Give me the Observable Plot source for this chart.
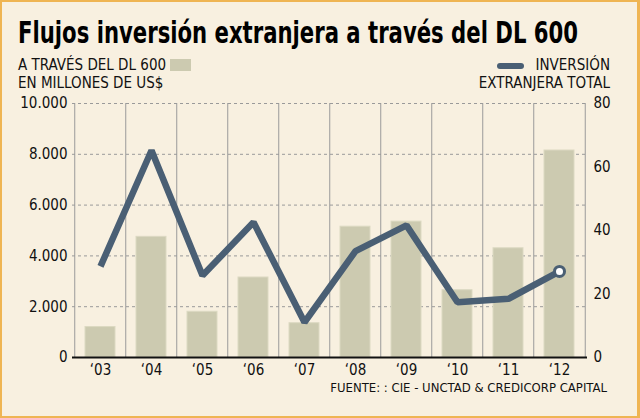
<!DOCTYPE html>
<html><head><meta charset="utf-8">
<script src="https://cdn.jsdelivr.net/npm/d3@7"></script>
<script src="https://cdn.jsdelivr.net/npm/@observablehq/plot@0.6"></script>
<style>
html,body{margin:0;padding:0;background:#f8f0e0;}
#wrap{position:relative;width:640px;height:418px;background:#f8f0e0;overflow:hidden;font-family:"DejaVu Sans Condensed","DejaVu Sans",sans-serif;color:#111;}
#border{position:absolute;left:0;top:0;width:640px;height:418px;box-sizing:border-box;border:2px solid #efb553;border-right-width:3px;pointer-events:none;}
.t{position:absolute;white-space:nowrap;}
#title{left:18px;top:14px;font-family:"DejaVu Sans Condensed",sans-serif;font-weight:bold;font-size:31px;color:#000;transform-origin:0 0;}
#sub1{left:18px;top:56px;font-size:15px;}
#sub2{left:18px;top:74px;font-size:15px;}
#sw1{position:absolute;left:170px;top:59px;width:21px;height:12px;background:#cccab0;}
#leg1{right:30px;top:56px;font-size:15px;}
#leg2{right:30px;top:74px;font-size:15px;}
#sw2{position:absolute;left:497px;top:63px;width:27px;height:6px;border-radius:3px;background:#4a5f74;}
#src{right:33px;top:380px;font-size:13px;}
#chart{position:absolute;left:0;top:90px;}
</style>
</head><body>
<div id="wrap">
  <div id="chart"></div>
  <div class="t" id="title">Flujos inversión extranjera a través del DL 600</div>
  <div class="t" id="sub1">A TRAVÉS DEL DL 600</div>
  <div id="sw1"></div>
  <div class="t" id="sub2">EN MILLONES DE US$</div>
  <div id="sw2"></div>
  <div class="t" id="leg1">INVERSIÓN</div>
  <div class="t" id="leg2">EXTRANJERA TOTAL</div>
  <div class="t" id="src">FUENTE: : CIE - UNCTAD &amp; CREDICORP CAPITAL</div>
  <div id="border"></div>
</div>
<script>
const years = ["2003","2004","2005","2006","2007","2008","2009","2010","2011","2012"];
const dl600 = [1200, 4750, 1800, 3150, 1350, 5150, 5350, 2650, 4300, 8150];
const total = [28.7, 65.2, 25.8, 42.6, 11.1, 33.5, 41.6, 17.4, 18.5, 27.1];
const leftTicks = [0, 2000, 4000, 6000, 8000, 10000];
const rightTicks = [0, 20, 40, 60, 80];

const ratio = 10000 / 80;
const data = years.map((y, i) => ({year: y, dl600: dl600[i], total: total[i]}));
const W = 640, ML = 72, MR = 53;
const half = (W - ML - MR) / years.length / 2;
const lineColor = "#4a5f74";

const chart = Plot.plot({
  width: W, height: 300,
  marginLeft: ML, marginRight: MR, marginTop: 13, marginBottom: 33,
  style: {background: "transparent", fontSize: "15px", fontFamily: "'DejaVu Sans Condensed','DejaVu Sans',sans-serif", color: "#111"},
  x: {type: "band", domain: years, paddingInner: 0.42, paddingOuter: 0.21},
  y: {domain: [0, 10000]},
  marks: [
    Plot.ruleY(leftTicks.slice(1), {stroke: "#9a9a9a", strokeDasharray: "3,3", strokeWidth: 1}),
    Plot.ruleX(years, {x: d => d, dx: -half, stroke: "#9a9a9a", strokeWidth: 1}),
    Plot.ruleX(years.slice(-1), {x: d => d, dx: half, stroke: "#9a9a9a", strokeWidth: 1}),
    Plot.barY(data, {x: "year", y: "dl600", fill: "#cccab0", stroke: "#dcd9c2", strokeWidth: 1}),
    Plot.ruleY([0], {stroke: "#111", strokeWidth: 2}),
    Plot.lineY(data, {x: "year", y: d => d.total * ratio, stroke: lineColor, strokeWidth: 6.5, strokeLinejoin: "miter", strokeLinecap: "butt"}),
    Plot.dot(data.slice(-1), {x: "year", y: d => d.total * ratio, r: 5, fill: "white", stroke: lineColor, strokeWidth: 3}),
    Plot.axisY({anchor: "left", ticks: leftTicks, tickSize: 0, tickPadding: 5, tickFormat: d => d3.format(",")(d).replace(/,/g, "."), label: null}),
    Plot.axisY({anchor: "right", ticks: rightTicks.map(v => v * ratio), tickSize: 0, tickPadding: 6, tickFormat: d => String(d / ratio), label: null}),
    Plot.axisX({tickSize: 0, tickPadding: 7, tickFormat: d => "\u2018" + d.slice(2), label: null})
  ]
});
document.getElementById("chart").appendChild(chart);

// fit the condensed bold title to the reference width
const title = document.getElementById("title");
const tw = title.getBoundingClientRect().width;
title.style.transform = `scaleX(${560 / tw})`;
</script>
</body></html>
